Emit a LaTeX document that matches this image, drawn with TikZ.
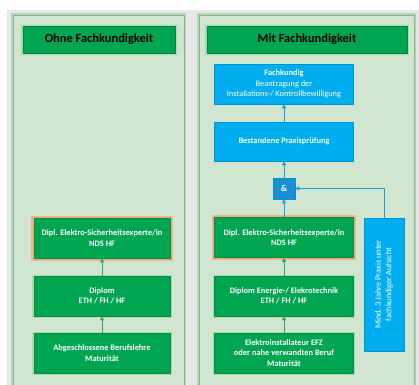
\documentclass[tikz,border=0pt]{standalone}
\usepackage{fontspec}
\setmainfont{Carlito}
\usetikzlibrary{arrows.meta}
\definecolor{bggrey}{HTML}{E7E7E9}
\definecolor{panelfill}{HTML}{D0E6D0}
\definecolor{panelline}{HTML}{8CB48C}
\definecolor{glowgreen}{HTML}{9ED39E}
\definecolor{boxgreen}{HTML}{00A551}
\definecolor{arrowgreen}{HTML}{2EAA62}
\definecolor{boxblue}{HTML}{00AEEF}
\definecolor{ampblue}{HTML}{1B90D3}
\definecolor{arrowblue}{HTML}{2A9AD6}
\definecolor{glowor}{HTML}{F2A77A}
\tikzset{
	panel/.style={fill=panelfill, draw=panelline, line width=0.8bp, preaction={draw=glowgreen, line width=4bp, opacity=0.7}},
	header/.style={rectangle, fill=boxgreen, draw=boxgreen!80!black, line width=0.5bp, preaction={draw=glowgreen, line width=3bp, opacity=0.7}, font=\bfseries\fontsize{12.5}{14}\selectfont, text=black, minimum height=27bp},
	gbox/.style={rectangle, fill=boxgreen, draw=boxgreen!85!black, line width=0.5bp, preaction={draw=glowgreen, line width=3bp, opacity=0.6}, text=white, font=\bfseries\fontsize{8.4}{10.5}\selectfont, align=center, minimum height=40bp, inner sep=2bp},
	obox/.style={gbox, preaction={draw=glowor, line width=5bp, opacity=0.8}},
	bbox/.style={rectangle, fill=boxblue, draw=boxblue!85!black, line width=0.5bp, text=white, font=\fontsize{8.4}{10.5}\selectfont, align=center, minimum height=39bp, inner sep=2bp},
	garrow/.style={draw=arrowgreen, line width=1bp, -{Triangle[length=4bp, width=4bp]}},
	barrow/.style={draw=arrowblue, line width=1bp, -{Triangle[length=4bp, width=4bp]}}
}
\begin{document}
\begin{tikzpicture}[x=1bp, y=-1bp]
	\useasboundingbox (0,0) rectangle (419,385);
	\fill[white] (0,0) rectangle (419,385);
	\fill[bggrey] (7,10) rectangle (419,385);
	\draw[panel] (13,15) rectangle (184,392);
	\draw[panel] (199,15) rectangle (414,392);

	\node[header, minimum width=152bp] (hleft) at (99,39.5) {Ohne Fachkundigkeit};
	\node[header, minimum width=200bp] (hright) at (307,39.5) {Mit Fachkundigkeit};

	\node[obox, minimum width=136bp] (nds) at (102,238) {Dipl. Elektro-Sicherheitsexperte/in\\NDS HF};
	\node[gbox, minimum width=136bp] (dipl) at (102,296) {Diplom\\ETH / FH / HF};
	\node[gbox, minimum width=136bp] (lehre) at (102,353) {Abgeschlossene Berufslehre\\Maturität};

	\node[bbox, minimum width=139bp, minimum height=40bp] (fach) at (284,84) {\textbf{Fachkundig}\\Beantragung der\\Installations-/ Kontrollbewilligung};
	\node[bbox, minimum width=139bp, font=\bfseries\fontsize{8.4}{10.5}\selectfont] (praxis) at (284,141.5) {Bestandene Praxisprüfung};
	\node[bbox, fill=ampblue, minimum width=22bp, minimum height=21bp, font=\bfseries\fontsize{9}{10}\selectfont] (amp) at (284,188.5) {\&};
	\node[obox, minimum width=139bp] (ndsr) at (284,237.5) {Dipl. Elektro-Sicherheitsexperte/in\\NDS HF};
	\node[gbox, minimum width=139bp] (energie) at (284,296) {Diplom Energie-/ Elekrotechnik\\ETH / FH / HF};
	\node[gbox, minimum width=139bp] (efz) at (284,353) {Elektroinstallateur EFZ\\oder nahe verwandten Beruf\\Maturität};
	\node[bbox, minimum width=40bp, minimum height=133bp] (aufsicht) at (384,284.5) {};
	\node[rotate=90, text=white, font=\fontsize{8.4}{10.5}\selectfont, align=center] (aufsichttext) at (aufsicht.center) {Mind. 3 Jahre Praxis unter\\fachkundiger Aufsicht};

	\draw[garrow] (dipl) -- (nds);
	\draw[garrow] (lehre) -- (dipl);
	\draw[garrow] (energie) -- (ndsr);
	\draw[garrow] (efz) -- (energie);
	\draw[barrow] (ndsr) -- (amp);
	\draw[barrow] (amp) -- (praxis);
	\draw[barrow] (praxis) -- (fach);
	\draw[barrow] (aufsicht.north) |- (amp.east);
\end{tikzpicture}
\end{document}
